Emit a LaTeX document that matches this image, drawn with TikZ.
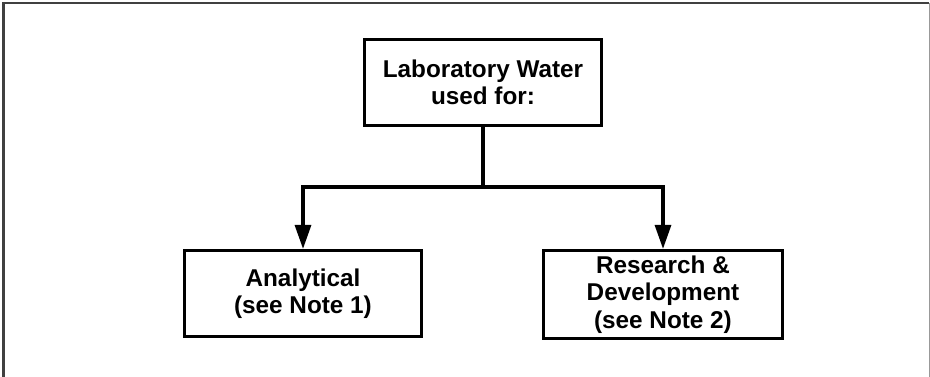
\documentclass[tikz,border=0pt]{standalone}
\usepackage{fontspec}
\setmainfont{Liberation Sans}
\usetikzlibrary{arrows.meta}
\begin{document}
\begin{tikzpicture}[x=1pt,y=-1pt,
  box/.style={draw, line width=3.2pt, align=center, inner sep=0pt,
    font=\bfseries\fontsize{24.3}{27.5}\selectfont},
  link/.style={line width=3.2pt, -{Triangle[length=24pt,width=16pt]}},
  trunk/.style={line width=3.2pt}]
\useasboundingbox (0,0) rectangle (930,377);
% page frame
\draw[line width=2.2pt, black!75] (3.5,377) -- (3.5,3) -- (929,3);
\draw[line width=1pt, black!40] (929,3) -- (929,377);
% boxes
\node[box, minimum width=237pt, minimum height=86pt] (top) at (483,82.5)
  {Laboratory Water\\used for:};
\node[box, minimum width=237pt, minimum height=86pt] (left) at (303,293.5)
  {Analytical\\(see Note 1)};
\node[box, minimum width=239pt, minimum height=88pt] (right) at (663,294.5)
  {Research \&\\Development\\(see Note 2)};
% connectors
\coordinate (split) at (483,187);
\draw[trunk] (top.south) -- (split);
\draw[link] (split) -| (left.north);
\draw[link] (split) -| (right.north);
\end{tikzpicture}
\end{document}
